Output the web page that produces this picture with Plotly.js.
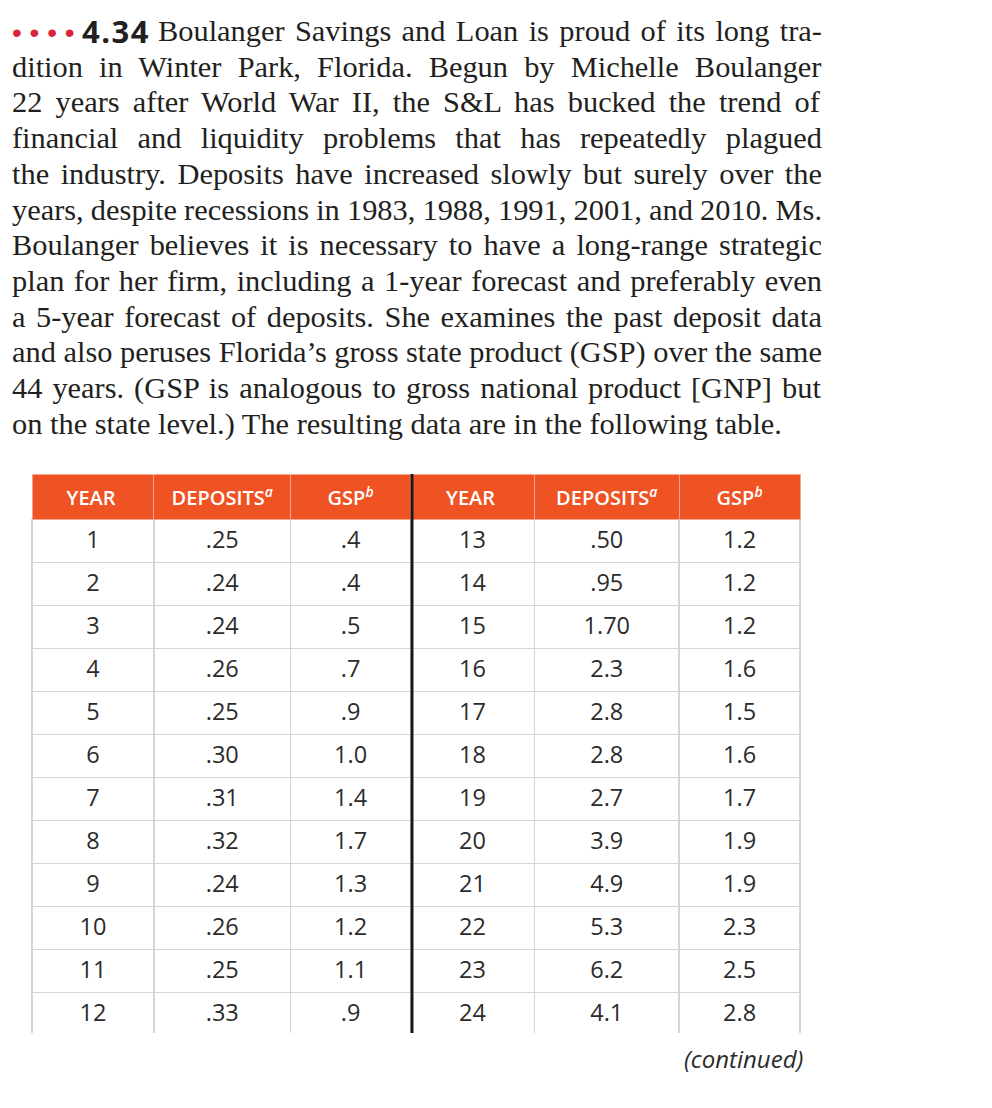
<!DOCTYPE html>
<html>
<head>
<meta charset="utf-8">
<script src="https://cdn.plot.ly/plotly-3.0.1.min.js"></script>
<style>html,body{margin:0;padding:0;background:#fff;}#chart{width:992px;height:1108px;}</style>
</head>
<body>
<div id="chart"></div>
<script>
// ---- data ----
var problemNumber = "4.34";
var paragraphFirst = "Boulanger Savings and Loan is proud of its long tra-";
var paragraphLines = [
  "dition in Winter Park, Florida. Begun by Michelle Boulanger",
  "22 years after World War II, the S&L has bucked the trend of",
  "financial and liquidity problems that has repeatedly plagued",
  "the industry. Deposits have increased slowly but surely over the",
  "years, despite recessions in 1983, 1988, 1991, 2001, and 2010. Ms.",
  "Boulanger believes it is necessary to have a long-range strategic",
  "plan for her firm, including a 1-year forecast and preferably even",
  "a 5-year forecast of deposits. She examines the past deposit data",
  "and also peruses Florida\u2019s gross state product (GSP) over the same",
  "44 years. (GSP is analogous to gross national product [GNP] but",
  "on the state level.) The resulting data are in the following table."
];
var headers = ["YEAR<sup>\u00a0</sup>", "DEPOSITS<sup><i>a</i></sup>", "GSP<sup><i>b</i></sup>",
               "YEAR<sup>\u00a0</sup>", "DEPOSITS<sup><i>a</i></sup>", "GSP<sup><i>b</i></sup>"];
var years1 = ["1","2","3","4","5","6","7","8","9","10","11","12"];
var deposits1 = [".25",".24",".24",".26",".25",".30",".31",".32",".24",".26",".25",".33"];
var gsp1 = [".4",".4",".5",".7",".9","1.0","1.4","1.7","1.3","1.2","1.1",".9"];
var years2 = ["13","14","15","16","17","18","19","20","21","22","23","24"];
var deposits2 = [".50",".95","1.70","2.3","2.8","2.8","2.7","3.9","4.9","5.3","6.2","4.1"];
var gsp2 = ["1.2","1.2","1.2","1.6","1.5","1.6","1.7","1.9","1.9","2.3","2.5","2.8"];
var footnote = "<i>(continued)</i>";

// ---- layout helpers ----
var W = 992, H = 1108;
function px(x){ return x / W; }
function py(y){ return 1 - y / H; }

var tableTop = 474, tableBottom = 1033, tableLeft = 32, tableRight = 800;
var textShift = 5;
var colW = [122, 137, 120, 124, 145, 121];
var cellFont = {family: "Open Sans", size: 23.5, color: "#2b2b2b"};

function blanks(arr){ return arr.map(function(){ return ""; }); }

// grid + header layer
var gridTable = {
  type: "table",
  domain: {x: [px(tableLeft), px(tableRight)], y: [py(tableBottom), py(tableTop)]},
  columnwidth: colW,
  header: {
    values: headers.map(function(h){ return [h]; }),
    align: "center",
    height: 43,
    fill: {color: "#f05323"},
    line: {color: "#f2a58d", width: 1},
    font: {family: "Open Sans", size: 20, color: "#ffffff", weight: 600}
  },
  cells: {
    values: [blanks(years1), blanks(deposits1), blanks(gsp1), blanks(years2), blanks(deposits2), blanks(gsp2)],
    align: "center",
    height: 43,
    fill: {color: "#ffffff"},
    line: {color: "#d6d6d6", width: 1.5},
    font: cellFont
  }
};

// value layer (same geometry, nudged down to centre text in rows)
var valueTable = {
  type: "table",
  domain: {x: [px(tableLeft), px(tableRight)], y: [py(tableBottom + textShift), py(tableTop + textShift)]},
  columnwidth: colW,
  header: {
    values: headers.map(function(){ return [""]; }),
    height: 43,
    fill: {color: "rgba(0,0,0,0)"},
    line: {color: "rgba(0,0,0,0)", width: 0}
  },
  cells: {
    values: [years1, deposits1, gsp1, years2, deposits2, gsp2],
    align: "center",
    height: 43,
    fill: {color: "rgba(0,0,0,0)"},
    line: {color: "rgba(0,0,0,0)", width: 0},
    font: cellFont
  }
};

// ---- paragraph (justified via word spacing) ----
var serifSize = 30.4;
var serif = {family: "Liberation Serif", size: serifSize, color: "#231f20"};
var ctx = document.createElement("canvas").getContext("2d");
ctx.font = serifSize + "px 'Liberation Serif'";
function esc(s){ return s.replace(/&/g, "&amp;"); }
function justify(s, target){
  var w = ctx.measureText(s).width;
  var spaces = (s.match(/ /g) || []).length;
  var ws = spaces ? (target - w) / spaces : 0;
  return '<span style="word-spacing:' + ws.toFixed(2) + 'px">' + esc(s) + '</span>';
}

var lineGap = 35.7;
var firstBaseline = 37;
function lineY(i){ return py(firstBaseline + i * lineGap - 6); }

var annotations = [];
annotations.push({xref:"paper", yref:"paper", x: px(11), y: lineY(0) - 0.001, xanchor:"left", yanchor:"middle",
  text: "\u2022 \u2022 \u2022 \u2022", showarrow:false, borderpad:0, font:{family:"Liberation Sans", size:28, color:"#d9263c"}});
annotations.push({xref:"paper", yref:"paper", x: px(81), y: lineY(0), xanchor:"left", yanchor:"middle",
  text: '<span style="letter-spacing:1.5px"><b>' + problemNumber + '</b></span>', showarrow:false, borderpad:0,
  font:{family:"Open Sans", size:31, color:"#231f20", weight:800}});
annotations.push({xref:"paper", yref:"paper", x: px(157), y: lineY(0), xanchor:"left", yanchor:"middle",
  text: justify(paragraphFirst, 822 - 158), showarrow:false, borderpad:0, font: serif});
paragraphLines.forEach(function(t, i){
  var last = (i === paragraphLines.length - 1);
  annotations.push({xref:"paper", yref:"paper", x: px(11), y: lineY(i+1), xanchor:"left", yanchor:"middle",
    text: last ? esc(t) : justify(t, 810), showarrow:false, borderpad:0, font: serif});
});
annotations.push({xref:"paper", yref:"paper", x: px(804), y: py(1058), xanchor:"right", yanchor:"middle",
  text: footnote, showarrow:false, borderpad:0, font:{family:"Open Sans", size:24, color:"#2b2b2b"}});

var layout = {
  width: W, height: H,
  margin: {l:0, r:0, t:0, b:0},
  paper_bgcolor: "#ffffff",
  plot_bgcolor: "#ffffff",
  showlegend: false,
  annotations: annotations,
  shapes: [{type:"line", xref:"paper", yref:"paper", x0: px(412), x1: px(412), y0: py(tableTop), y1: py(tableBottom),
            line:{color:"#1a1a1a", width:3}}]
};

Plotly.newPlot("chart", [gridTable, valueTable], layout, {displayModeBar:false, staticPlot:true});
</script>
</body>
</html>
